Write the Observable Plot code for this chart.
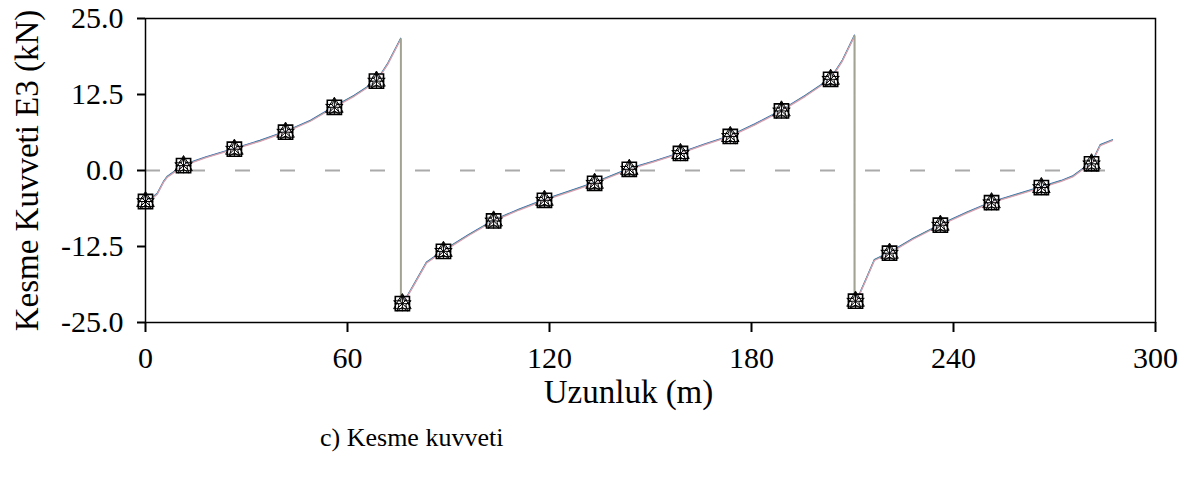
<!DOCTYPE html>
<html>
<head>
<meta charset="utf-8">
<script src="https://cdn.jsdelivr.net/npm/d3@7"></script>
<script src="https://cdn.jsdelivr.net/npm/@observablehq/plot@0.6"></script>
<style>
  body { margin: 0; background: #fff; }
  #chart { position: relative; width: 1194px; height: 488px; }
  .caption {
    position: absolute; left: 320px; top: 423px;
    font-family: "Liberation Serif", "Times New Roman", serif;
    font-size: 26px; line-height: 30px; color: #000; white-space: nowrap;
  }
</style>
</head>
<body>
<div id="chart"></div>
<script>
// Shear force E3 along the length (m)
const lineX = [0, 2, 3.5, 5.3, 6.5, 11.3, 18, 26.4, 34, 41.6, 49, 56.1, 62, 68.6, 72, 75.8,
  75.8, 77.5, 80, 83.5, 88.5, 96, 103.4, 111, 118.5, 126, 133.4, 143.7, 151, 158.9, 166, 173.7,
  181, 188.9, 196, 203.5, 207, 210.6,
  210.6, 212, 214, 216.5, 221, 228, 236.1, 244, 251.3, 259, 266.1, 272, 275.6, 278, 281, 283.6, 287.2];
const lineV = [-5.1, -4.6, -3.9, -2.0, -1.1, 0.8, 2.1, 3.5, 4.8, 6.3, 8.1, 10.4, 12.2, 14.6, 17.5, 21.6,
  -21.9, -21.0, -18.6, -15.2, -13.3, -10.7, -8.3, -6.5, -4.9, -3.5, -2.1, 0.2, 1.4, 2.8, 4.2, 5.6,
  7.5, 9.8, 12.2, 15.0, 18.0, 22.1,
  -21.5, -20.5, -18.0, -14.8, -13.6, -11.3, -9.0, -7.0, -5.3, -4.0, -2.8, -1.8, -1.0, 0.0, 1.1, 4.1, 4.9];

// Station points carrying the markers
const markX = [0, 11.3, 26.4, 41.6, 56.1, 68.6, 76.3, 88.5, 103.4, 118.5, 133.4, 143.7, 158.9, 173.7,
  188.9, 203.5, 210.9, 221, 236.1, 251.3, 266.1, 281];
const markV = [-5.1, 0.8, 3.5, 6.3, 10.4, 14.7, -21.9, -13.3, -8.3, -4.9, -2.1, 0.2, 2.8, 5.6,
  9.8, 15.0, -21.5, -13.6, -9.0, -5.3, -2.8, 1.1];

const xTicks = [0, 60, 120, 180, 240, 300];
const yTicks = [-25, -12.5, 0, 12.5, 25];
const xLabel = "Uzunluk (m)";
const yLabel = "Kesme Kuvveti E3 (kN)";

const line = lineX.map((x, i) => ({x, v: lineV[i]}));
const marks = markX.map((x, i) => ({x, v: markV[i]}));
// jumps at the supports: consecutive points sharing the same x
const jumps = line.slice(1).map((d, i) => ({x: d.x, v1: line[i].v, v2: d.v, same: d.x === line[i].x}))
  .filter(d => d.same);

// overlaid marker glyphs: [symbol, radius]
const glyphs = [["square", 8], ["triangle", 6.5], ["star", 5.5], ["times", 4], ["plus", 5]];

const font = "'Liberation Serif', 'Times New Roman', serif";
const chart = Plot.plot({
  width: 1194,
  height: 420,
  marginLeft: 145,
  marginRight: 39,
  marginTop: 18,
  marginBottom: 98,
  x: {domain: [0, 300]},
  y: {domain: [-25, 25]},
  style: {fontFamily: font, fontSize: "30px", color: "#000", background: "#fff"},
  marks: [
    Plot.ruleY([0], {x1: 0, x2: 287, stroke: "#aaaaaa", strokeWidth: 2, strokeDasharray: "15,30"}),
    Plot.line(line, {x: "x", y: "v", stroke: "#3f5fc8", strokeWidth: 1.2, dy: -1}),
    Plot.line(line, {x: "x", y: "v", stroke: "#3aa07a", strokeWidth: 1.2, dy: -0.5}),
    Plot.line(line, {x: "x", y: "v", stroke: "#dca0b4", strokeWidth: 1.3}),
    Plot.ruleX(jumps, {x: "x", y1: "v1", y2: "v2", stroke: "#a3a394", strokeWidth: 1.6}),
    ...glyphs.map(([s, r]) => Plot.dot(marks, {x: "x", y: "v", symbol: () => s, r, stroke: "#000",
      strokeWidth: s === "square" ? 1.6 : 1, fill: s === "square" ? "#fff" : "none", fillOpacity: 0.6})),
    Plot.frame({stroke: "#000", strokeWidth: 1.5}),
    Plot.axisY({ticks: yTicks, tickFormat: d => d.toFixed(1), tickSize: 8, tickPadding: 14, strokeWidth: 2,
      fontSize: 30, fontFamily: font, label: null}),
    Plot.axisX({ticks: xTicks, tickSize: 10, tickPadding: 14, strokeWidth: 2,
      fontSize: 30, fontFamily: font, label: null}),
    // axis titles
    Plot.text([xLabel], {frameAnchor: "bottom", text: d => d, dy: 70, dx: -22, lineAnchor: "middle",
      fontSize: 33, fontFamily: font, fill: "#000"}),
    Plot.text([yLabel], {frameAnchor: "left", text: d => d, dx: -118, rotate: -90,
      textAnchor: "middle", lineAnchor: "middle", fontSize: 33, fontFamily: font, fill: "#000"})
  ]
});
document.getElementById("chart").appendChild(chart);
const cap = document.createElement("div");
cap.className = "caption";
cap.textContent = "c) Kesme kuvveti";
document.getElementById("chart").appendChild(cap);
</script>
</body>
</html>
